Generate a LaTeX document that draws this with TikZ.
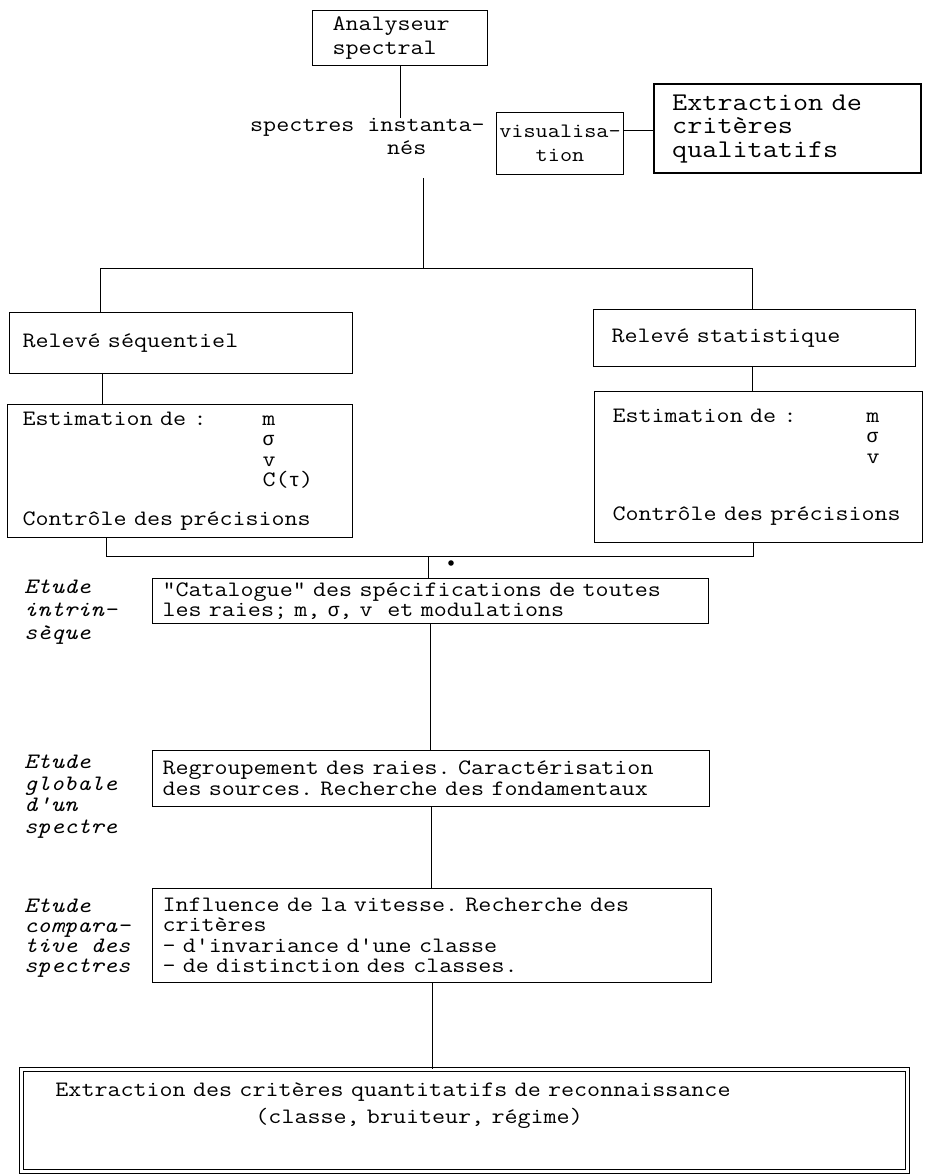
\documentclass[tikz,border=0pt]{standalone}
\usepackage{fontspec}
\setmonofont{Latin Modern Mono}[FakeStretch=1.15]
\newfontfamily\grk{Liberation Mono}[Scale=0.875]
\usetikzlibrary{calc}
\newcommand\fsz{\fontsize{22}{20.5}\selectfont\ttfamily\frenchspacing}
\newcommand\fszw{\fontsize{22}{23.5}\selectfont\ttfamily\frenchspacing}
\newcommand\sig{{\grk σ}}
\newcommand\tauu{{\grk τ}}
\begin{document}
\begin{tikzpicture}[x=1pt,y=-1pt,
  every node/.style={font=\fsz},
  box/.style={draw,line width=1pt,anchor=north west,inner ysep=0pt,align=left},
  lab/.style={anchor=north west,align=left,inner sep=0pt,font=\fontsize{22}{21.5}\selectfont\ttfamily\itshape},
  wire/.style={line width=1pt}]
\useasboundingbox (0,0) rectangle (924,1174);

% helper x positions
\coordinate (x100) at (100,0);
\coordinate (x102) at (102,0);
\coordinate (x106) at (106,0);
\coordinate (x423) at (423,0);
\coordinate (x428) at (428,0);
\coordinate (x752) at (752,0);
\coordinate (x753) at (753,0);

% top part
\node[box,font=\fszw,minimum width=175,minimum height=55,inner xsep=20pt,text width=135] (ana) at (312,10) {Analyseur\\spectral};
\node[anchor=north west,align=left,inner sep=0pt,font=\fszw] (spec) at (250,118) {spectres instanta-\\\hspace*{137pt}nés};
\node[box,font=\fontsize{20.5}{23.5}\selectfont\ttfamily,align=center,minimum width=127,minimum height=62,inner xsep=1pt,text width=125] (vis) at (496,112) {\mbox{visualisa-}\\tion};
\node[box,font=\fontsize{25.5}{23.5}\selectfont\ttfamily,line width=2.4pt,minimum width=267,minimum height=89,inner xsep=18pt,text width=231] (ext) at (653,83) {\mbox{Extraction de}\\critères\\qualitatifs};

\coordinate (vj) at ($(vis.north east)!0.3!(vis.south east)$);
\draw[wire] (vj) -- (vj -| ext.west);
\draw[wire] (ana.south) -- (ana.south |- spec.north);

\coordinate (s0) at (423,178);
\coordinate (hb) at (0,268);
\draw[wire] (s0) -- (x423 |- hb);

% second level
\node[box,minimum width=343,minimum height=61,inner xsep=13pt,text width=317] (rs) at (9,312) {Relevé séquentiel};
\node[box,minimum width=322,minimum height=57,inner xsep=18pt,text width=286] (rst) at (593,309) {Relevé statistique};
\draw[wire] (x100 |- rs.north) -- (x100 |- hb) -- (x752 |- hb) -- (x752 |- rst.north);

\node[box,minimum width=345,minimum height=133,inner xsep=15pt,text width=315] (es) at (7,404)
 {\makebox[240pt][l]{Estimation de :}m\\
  \hspace*{240pt}\sig\\
  \hspace*{240pt}v\\
  \hspace*{240pt}C(\tauu)\\[18pt]
  Contrôle des précisions};
\node[box,minimum width=328,minimum height=151,inner xsep=18pt,text width=292] (est) at (594,391)
 {\makebox[254pt][l]{Estimation de :}m\\
  \hspace*{254pt}\sig\\
  \hspace*{254pt}v\\[37pt]
  Contrôle des précisions};
\draw[wire] (x102 |- rs.south) -- (x102 |- es.north);
\draw[wire] (x752 |- rst.south) -- (x752 |- est.north);

% collector
\coordinate (kk) at (0,556);
\draw[wire] (x106 |- es.south) -- (x106 |- kk) -- (x753 |- kk) -- (x753 |- est.south);
\fill (451,563) circle (2.8);

% central column
\node[box,minimum width=556,minimum height=45,inner xsep=10pt,text width=536] (cat) at (152,578)
 {\mbox{"Catalogue" des spécifications de toutes}\\\mbox{les raies; m, \sig, v~~et modulations}};
\draw[wire] (x428 |- kk) -- (x428 |- cat.north);

\node[box,minimum width=557,minimum height=56,inner xsep=10pt,text width=537] (reg) at (152,750)
 {\mbox{Regroupement des raies. Caractérisation}\\\mbox{des sources. Recherche des fondamentaux}};
\draw[wire] (cat.south) -- (cat.south |- reg.north);

\node[box,minimum width=559,minimum height=94,inner xsep=10pt,text width=539] (inf) at (152,888)
 {\mbox{Influence de la vitesse. Recherche des}\\critères\\- d'invariance d'une classe\\- de distinction des classes.};
\draw[wire] (reg.south) -- (reg.south |- inf.north);

\node[box,double,double distance=3pt,line width=0.9pt,minimum width=886,minimum height=102,inner xsep=34pt,text width=818,font=\fontsize{22}{27}\selectfont\ttfamily\frenchspacing] (fin) at (21,1069)
 {\mbox{Extraction des critères quantitatifs de reconnaissance}\\\hspace*{200pt}(classe, bruiteur, régime)\\\strut};
\draw[wire] (inf.south) -- (inf.south |- fin.north);

% side labels
\node[lab,font=\fontsize{22}{23}\selectfont\ttfamily\itshape] (l1) at (24,580) {Etude\\intrin-\\sèque};
\node[lab] (l2) at (24,755) {Etude\\globale\\d'un\\spectre};
\node[lab,font=\fontsize{22}{20}\selectfont\ttfamily\itshape] (l3) at (24,899) {Etude\\compara-\\tive des\\spectres};
\end{tikzpicture}
\end{document}
